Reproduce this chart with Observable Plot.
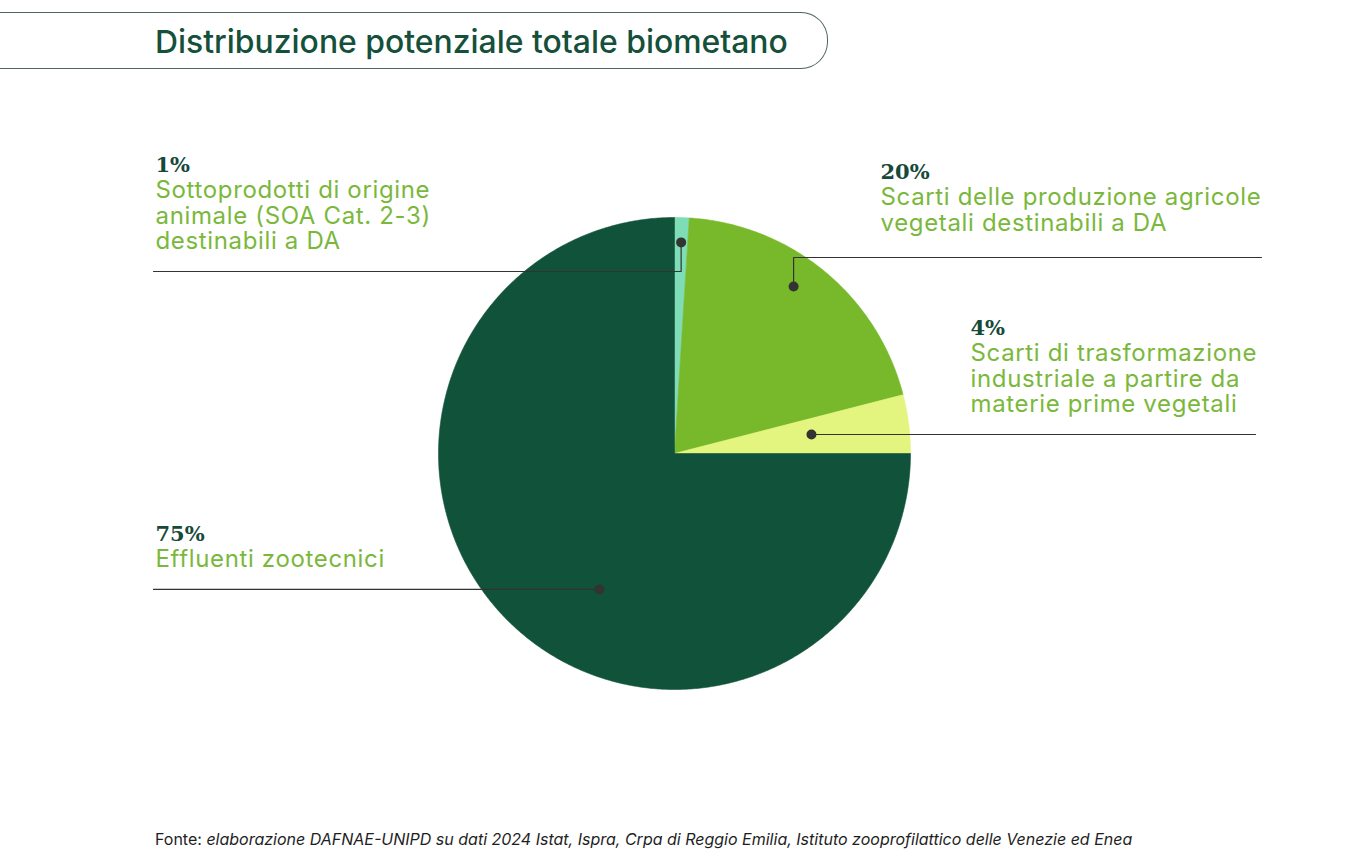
<!DOCTYPE html>
<html><head><meta charset="utf-8">
<script src="https://cdn.jsdelivr.net/npm/d3@7"></script>
<script src="https://cdn.jsdelivr.net/npm/@observablehq/plot@0.6"></script>
<style>
body{margin:0;background:#fff;}
#wrap{position:relative;width:1356px;height:852px;overflow:hidden;}
#titlebox{position:absolute;left:-4px;top:12px;width:832px;height:57px;border:1.3px solid #4d6657;border-left:none;border-radius:0 27px 27px 0;box-sizing:border-box;}
#title{position:absolute;left:155px;top:12px;height:57px;line-height:57px;padding-top:1px;font-family:Inter,sans-serif;font-weight:500;font-size:31.9px;color:#14503a;white-space:nowrap;}
#chart{position:absolute;left:0;top:80px;}
#chart g[font-family="Inter"]{letter-spacing:0.65px;}
#footer{position:absolute;left:155px;top:829px;font-family:Inter,sans-serif;font-size:16px;color:#1e1e1e;white-space:nowrap;}
#footer i{font-style:italic;}
</style></head>
<body>
<div id="wrap">
  <div id="titlebox"></div>
  <div id="title">Distribuzione potenziale totale biometano</div>
  <div id="chart"></div>
  <div id="footer">Fonte: <i>elaborazione DAFNAE-UNIPD su dati 2024 Istat, Ispra, Crpa di Reggio Emilia, Istituto zooprofilattico delle Venezie ed Enea</i></div>
</div>
<script>
// ---- data ----
const categories = [
  "Sottoprodotti di origine animale (SOA Cat. 2-3) destinabili a DA",
  "Scarti delle produzione agricole vegetali destinabili a DA",
  "Scarti di trasformazione industriale a partire da materie prime vegetali",
  "Effluenti zootecnici"
];
const shares = [1, 20, 4, 75];
const pctLabels = ["1%", "20%", "4%", "75%"];
const labelLines = [
  ["Sottoprodotti di origine", "animale (SOA Cat. 2-3)", "destinabili a DA"],
  ["Scarti delle produzione agricole", "vegetali destinabili a DA"],
  ["Scarti di trasformazione", "industriale a partire da", "materie prime vegetali"],
  ["Effluenti zootecnici"]
];

// ---- styles ----
const sliceColors = ["#7edcb6", "#78b82b", "#e3f57e", "#10523a"];

// ---- layout (page pixels) ----
const W = 1356, H = 730, TOP = 80;
const R = 236, CX = 674, CY = 453 - TOP;
const layout = [
  {tx: 155, ty: 171, dotA: 1.8,   dotR: 0.895, kind: "vh", turn: 271, end: 153},
  {tx: 880, ty: 178, dotA: 35.5,  dotR: 0.869, kind: "vh", turn: 257, end: 1261},
  {tx: 970, ty: 334, dotA: 82.1,  dotR: 0.586, kind: "h",  end: 1255},
  {tx: 155, ty: 540, dotA: 208.9, dotR: 0.658, kind: "h",  end: 153}
];
const firstGap = 26.5, lineGap = 25.7;

const X = px => (px - CX) / R;
const Y = py => (CY - (py - TOP)) / R;

// slices as polygons in unit-radius coordinates
const total = d3.sum(shares);
const slicePts = [];
let acc = 0;
shares.forEach((v, i) => {
  const a0 = acc / total * 360, a1 = (acc + v) / total * 360;
  acc += v;
  const cat = categories[i];
  slicePts.push({cat, x: 0, y: 0});
  const n = Math.max(2, Math.ceil((a1 - a0) / 0.5));
  for (let k = 0; k <= n; k++) {
    const a = (a0 + (a1 - a0) * k / n) * Math.PI / 180;
    slicePts.push({cat, x: Math.sin(a), y: Math.cos(a)});
  }
  slicePts.push({cat, x: 0, y: 0});
});

// dots & leaders
const dots = layout.map((l, i) => {
  const a = l.dotA * Math.PI / 180;
  return {i, x: l.dotR * Math.sin(a), y: l.dotR * Math.cos(a)};
});
const leaderPts = [];
layout.forEach((l, i) => {
  const d = dots[i];
  leaderPts.push({g: i, x: d.x, y: d.y});
  if (l.kind === "vh") {
    leaderPts.push({g: i, x: d.x, y: Y(l.turn)});
    leaderPts.push({g: i, x: X(l.end), y: Y(l.turn)});
  } else {
    leaderPts.push({g: i, x: X(l.end), y: d.y});
  }
});

const pctRows = layout.map((l, i) => ({x: X(l.tx), y: Y(l.ty), text: pctLabels[i]}));
const descRows = [];
layout.forEach((l, i) => {
  labelLines[i].forEach((t, k) => {
    descRows.push({x: X(l.tx), y: Y(l.ty + firstGap + k * lineGap), text: t});
  });
});

const chart = Plot.plot({
  width: W, height: H,
  marginTop: 0, marginBottom: 0, marginLeft: 0, marginRight: 0,
  x: {domain: [X(0), X(W)], range: [0, W], axis: null},
  y: {domain: [Y(TOP + H), Y(TOP)], range: [H, 0], axis: null},
  color: {domain: categories, range: sliceColors},
  style: {background: "transparent", overflow: "visible"},
  marks: [
    Plot.line(slicePts, {x: "x", y: "y", z: "cat", fill: "cat", stroke: "cat", strokeWidth: 0.6, curve: "linear"}),
    Plot.line(leaderPts, {x: "x", y: "y", z: "g", stroke: "#333333", strokeWidth: 1.2, curve: "linear"}),
    Plot.dot(dots, {x: "x", y: "y", r: 5, fill: "#333333", stroke: "none"}),
    Plot.text(pctRows, {x: "x", y: "y", text: "text", textAnchor: "start", lineAnchor: "bottom",
      fontFamily: "DejaVu Serif", fontWeight: "bold", fontSize: 21, fill: "#17493a"}),
    Plot.text(descRows, {x: "x", y: "y", text: "text", textAnchor: "start", lineAnchor: "bottom",
      fontFamily: "Inter", fontSize: 24, fill: "#7ab83c"})
  ]
});
document.getElementById("chart").appendChild(chart);
</script>
</body></html>
